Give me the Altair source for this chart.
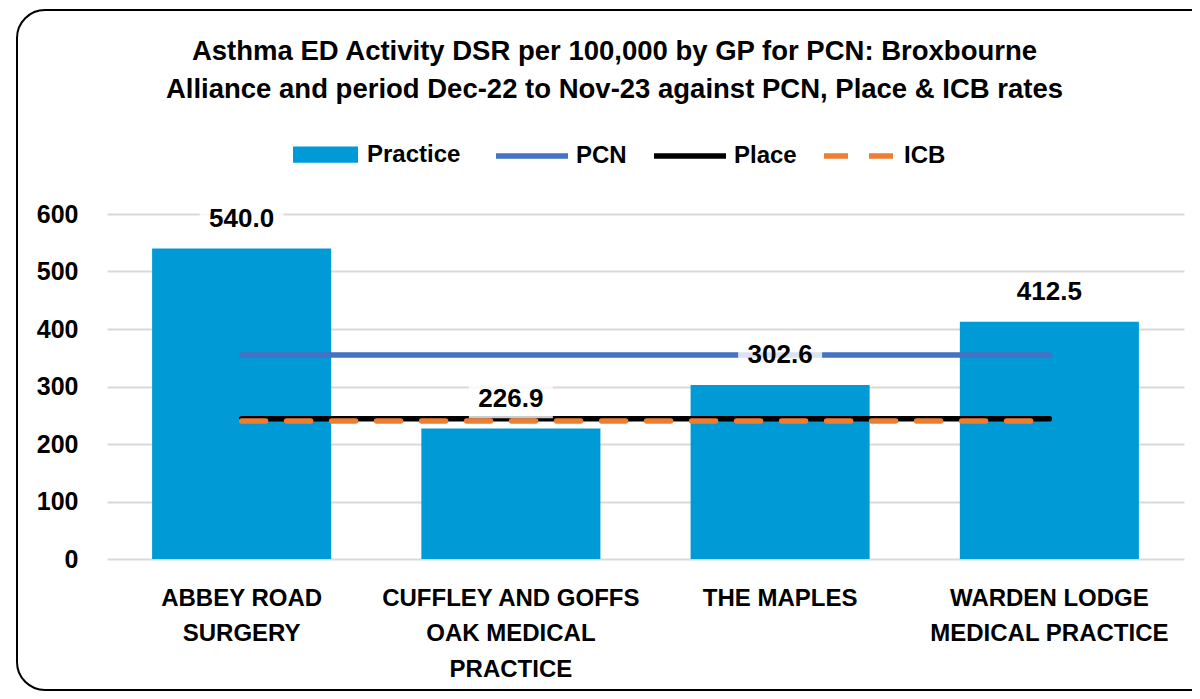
import altair as alt
import pandas as pd

practices = ["ABBEY ROAD SURGERY", "CUFFLEY AND GOFFS OAK MEDICAL PRACTICE",
             "THE MAPLES", "WARDEN LODGE MEDICAL PRACTICE"]
practice_label_lines = [["ABBEY ROAD", "SURGERY"],
                        ["CUFFLEY AND GOFFS", "OAK MEDICAL", "PRACTICE"],
                        ["THE MAPLES"],
                        ["WARDEN LODGE", "MEDICAL PRACTICE"]]
practice_values = [540.0, 226.9, 302.6, 412.5]

bar_series = ["Practice"]
bar_colors = ["#009BD7"]
line_series = ["PCN", "Place", "ICB"]
line_colors = ["#4472C4", "#000000", "#ED7D31"]
line_rates = [355.0, 244.0, 240.0]

title_lines = ["Asthma ED Activity DSR per 100,000 by GP for PCN: Broxbourne",
               "Alliance and period Dec-22 to Nov-23 against PCN, Place & ICB rates"]

FONT = "Liberation Sans"

bars_df = pd.DataFrame({"practice": practices, "value": practice_values,
                        "series": bar_series * len(practices)})
rows = []
for name, rate in zip(line_series, line_rates):
    for p in practices:
        rows.append({"practice": p, "series": name, "value": rate})
lines_df = pd.DataFrame(rows)

# label expression for multi-line x labels
expr = "datum.label"
for name, parts in reversed(list(zip(practices, practice_label_lines))):
    arr = "[" + ",".join("'" + s + "'" for s in parts) + "]"
    expr = f"datum.label == '{name}' ? {arr} : ({expr})"

x_enc = alt.X("practice:N", sort=practices,
              scale=alt.Scale(paddingInner=0.335, paddingOuter=0.1675),
              axis=alt.Axis(title=None, labelAngle=0, domain=False, ticks=False,
                            labelPadding=27, labelFontSize=24, labelFontWeight="bold",
                            labelLineHeight=35.5, labelExpr=expr, labelColor="black",
                            labelFont=FONT, grid=False, labelLimit=400))
y_scale = alt.Scale(domain=[0, 600], nice=False)
y_axis = alt.Axis(title=None, values=[0, 100, 200, 300, 400, 500, 600], domain=False,
                  ticks=False, labelPadding=29, labelFontSize=25, labelFontWeight="bold",
                  labelColor="black", labelFont=FONT, grid=True, gridColor="#D9D9D9",
                  gridWidth=2)

frame = alt.Chart(pd.DataFrame({"a": [0]})).mark_rect(
    fillOpacity=0, stroke="black", strokeWidth=2, cornerRadius=28
).encode(x=alt.value(-90), x2=alt.value(1230), y=alt.value(-204), y2=alt.value(476))

bars = alt.Chart(bars_df).mark_bar().encode(
    x=x_enc,
    y=alt.Y("value:Q", scale=y_scale, axis=y_axis),
    fill=alt.Fill("series:N", scale=alt.Scale(domain=bar_series, range=bar_colors),
                  legend=alt.Legend(title=None, orient="none", legendX=186, legendY=-92,
                                    symbolType="M-1,-0.25H1V0.25H-1Z", symbolSize=4225,
                                    symbolStrokeWidth=0, labelOffset=9)),
)

line_legend = dict(title=None, orient="none", legendX=386, legendY=-97,
                   symbolType="stroke", symbolSize=5184, symbolStrokeWidth=5.5,
                   labelOffset=5, columnPadding=16)

lines = alt.Chart(lines_df).mark_line(strokeCap="round", strokeWidth=5.5).encode(
    x=alt.X("practice:N", sort=practices),
    y=alt.Y("value:Q", scale=y_scale),
    stroke=alt.Stroke("series:N", sort=line_series,
                      scale=alt.Scale(domain=line_series, range=line_colors),
                      legend=alt.Legend(**line_legend)),
    strokeDash=alt.StrokeDash("series:N", sort=line_series,
                              scale=alt.Scale(domain=line_series,
                                              range=[[1, 0], [1, 0], [24, 21]]),
                              legend=alt.Legend(**line_legend)),
)

box_path = "M-1,-0.4H1V0.4H-1Z"
boxes = alt.Chart(bars_df).mark_point(
    shape=box_path, filled=True, fill="white", opacity=0.8, size=7056, yOffset=-27,
    strokeWidth=0
).encode(x=alt.X("practice:N", sort=practices), y=alt.Y("value:Q", scale=y_scale))

labels = alt.Chart(bars_df).mark_text(
    dy=-30, fontSize=26, fontWeight="bold", font=FONT, color="black", baseline="middle"
).encode(x=alt.X("practice:N", sort=practices), y=alt.Y("value:Q", scale=y_scale),
         text=alt.Text("value:Q", format=".1f"))

chart = alt.layer(frame, bars, lines, boxes, labels).properties(
    width=1077, height=345,
    padding={"left": 99, "top": 206, "right": 8, "bottom": 132},
    autosize=alt.AutoSizeParams(type="none"),
    title=alt.TitleParams(text=title_lines, fontSize=27.5, font=FONT, fontWeight="bold",
                          lineHeight=38, anchor="middle", dx=-31, color="black",
                          offset=-94),
).configure_view(stroke=None).configure_legend(
    direction="horizontal", labelFontSize=24, labelFont=FONT,
    labelFontWeight="bold", labelColor="black"
)

chart.save("out.html", embed_options={"renderer": "svg", "actions": False})
